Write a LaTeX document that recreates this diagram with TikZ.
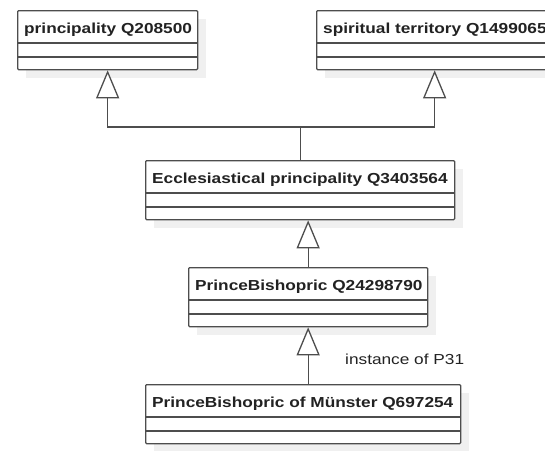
\documentclass[tikz,border=0pt]{standalone}
\usepackage{fontspec}
\setmainfont[FakeStretch=1.19]{Liberation Sans}
\usepackage{tikz}
\usetikzlibrary{arrows.meta,calc}

\definecolor{umlline}{HTML}{4D4D4D}
\definecolor{umlshadow}{HTML}{F0F0F0}
\definecolor{umltext}{HTML}{222222}

\tikzset{
    classbox/.style={draw=umlline, line width=1.3pt, fill=white, rounded corners=1pt,
        inner sep=0pt, anchor=north west, minimum height=59pt},
    classline/.style={draw=umlline, line width=1.3pt},
    classtitle/.style={anchor=base west, inner sep=0pt, text=umltext,
        font=\fontsize{14.5}{17}\selectfont\bfseries},
    inherit/.style={draw=umlline, line width=1.3pt,
        -{Triangle[fill=white, length=28pt, width=23pt]}},
}

% class box: name, left, top, width, title
\newcommand{\classbox}[5]{
    \fill[umlshadow] (#2+9,#3+9) rectangle ++(#4,59);
    \node[classbox, minimum width=#4] (#1) at (#2,#3) {};
    \draw[classline] ($(#1.north west)+(0,33)$) -- ($(#1.north east)+(0,33)$);
    \draw[classline] ($(#1.north west)+(0,47)$) -- ($(#1.north east)+(0,47)$);
    \node[classtitle] (#1-title) at ($(#1.north west)+(7,23)$) {#5};
}

\begin{document}
\begin{tikzpicture}[x=1pt, y=-1pt, >=Stealth]

    %% Background
    \useasboundingbox (0,0) rectangle (545,450);

    % Classes
    \classbox{principality}{17}{10}{180}{principality Q208500}
    \classbox{spiritual}{316}{10}{236}{spiritual territory Q1499065}
    \classbox{eccl}{145}{160}{309}{Ecclesiastical principality Q3403564}
    \classbox{bishopric}{188}{267}{239}{PrinceBishopric Q24298790}
    \classbox{munster}{145}{384}{315}{PrinceBishopric of Münster Q697254}

    % Generalizations
    \coordinate (junction) at (299,127);
    \draw[inherit] (eccl.north) |- (principality.south |- junction) -- (principality.south);
    \draw[inherit] (eccl.north) |- (spiritual.south |- junction) -- (spiritual.south);
    \draw[inherit] (bishopric.north) -- (bishopric.north |- eccl.south);
    \draw[inherit] (munster.north -| bishopric.south) -- (bishopric.south);

    % instance label
    \node[anchor=base west, inner sep=0pt, text=umltext,
        font=\fontsize{14.5}{17}\selectfont] (instance) at (345,364) {instance of P31};

\end{tikzpicture}
\end{document}
